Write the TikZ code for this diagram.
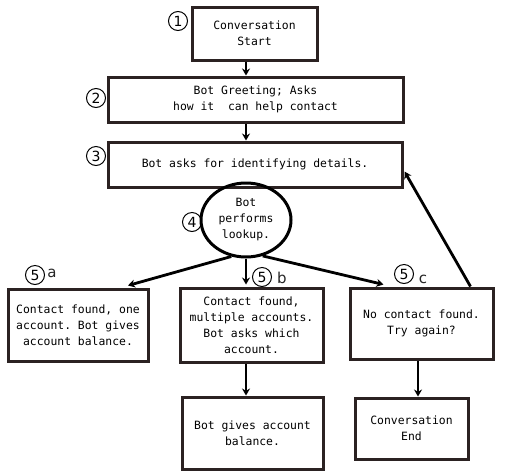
\documentclass[tikz,border=0pt]{standalone}
\usepackage{fontspec}
\setmonofont{DejaVu Sans Mono}
\newfontfamily\handfont{DejaVu Sans}
\usetikzlibrary{arrows.meta,shapes.geometric}
\definecolor{boxline}{HTML}{2B2222}
\tikzset{
  stepbox/.style={draw=boxline, line width=3pt, rectangle, align=center,
    font=\ttfamily\fontsize{11.4}{16}\selectfont, inner sep=0pt},
  ovalbox/.style={draw=black, line width=3pt, ellipse, align=center,
    font=\ttfamily\fontsize{11.4}{16}\selectfont, inner sep=0pt,
    minimum width=90pt, minimum height=74pt},
  arr/.style={draw=black, line width=2.8pt, -{Stealth[length=7pt,width=8pt]}},
  numlabel/.style={draw=black, circle, line width=1pt, minimum size=19pt,
    inner sep=0pt, font=\handfont\fontsize{14}{14}\selectfont},
  letterlabel/.style={inner sep=0pt, font=\handfont\fontsize{15}{15}\selectfont\color{black!85}}
}
\begin{document}
\begin{tikzpicture}[x=1pt,y=-1pt]
\useasboundingbox[fill=white] (0,0) rectangle (510,472);
% boxes
\node[stepbox, minimum width=125pt, minimum height=53pt] (s1) at (254.5,33.5) {Conversation\\Start};
\node[stepbox, minimum width=295pt, minimum height=45pt] (s2) at (255.5,99.5) {Bot Greeting; Asks\\how it\ \ can help contact};
\node[stepbox, minimum width=294pt, minimum height=45pt] (s3) at (255,164.5) {Bot asks for identifying details.};
\node[ovalbox] (e) at (246,220) {Bot\\performs\\lookup.};
\node[stepbox, minimum width=140pt, minimum height=72pt] (ra) at (78,325) {Contact found, one\\account. Bot gives\\account balance.};
\node[stepbox, minimum width=143pt, minimum height=74pt] (rb) at (251.5,325) {Contact found,\\multiple accounts.\\Bot asks which\\account.};
\node[stepbox, minimum width=143pt, minimum height=71pt] (rc) at (421.5,323.5) {No contact found.\\Try again?};
\node[stepbox, minimum width=141pt, minimum height=72pt] (rd) at (252.5,433) {Bot gives account\\balance.};
\node[stepbox, minimum width=113pt, minimum height=61pt] (rf) at (411.5,428.5) {Conversation\\End};
% number labels
\node[numlabel] (n1) at (178,21) {1};
\node[numlabel] (n2) at (96,98) {2};
\node[numlabel] (n3) at (96,156) {3};
\node[numlabel] (n4) at (192,222) {4};
\node[numlabel] (n5a) at (35,275) {5};
\node[letterlabel] (la) at (52,273) {a};
\node[numlabel] (n5b) at (262,277) {5};
\node[letterlabel] (lb) at (282,278) {b};
\node[numlabel] (n5c) at (404,274) {5};
\node[letterlabel] (lc) at (423,279) {c};
% connectors
\coordinate (cx) at (418,0);
\draw[arr] (s1.south -| e) -- (s2.north -| e);
\draw[arr] (s2.south -| e) -- (s3.north -| e);
\draw[arr] (e.248) -- ([xshift=50pt,yshift=2pt]ra.north);
\draw[arr] (e.south) -- ([yshift=2pt]rb.north -| e);
\draw[arr] (e.295) -- ([xshift=-38pt,yshift=2pt]rc.north);
\draw[arr] ([xshift=49pt]rc.north) -- ([yshift=-7pt,xshift=1pt]s3.east);
\draw[arr] (rb.south -| e) -- (rd.north -| e);
\draw[arr] (rc.south -| cx) -- (rf.north -| cx);
\end{tikzpicture}
\end{document}
